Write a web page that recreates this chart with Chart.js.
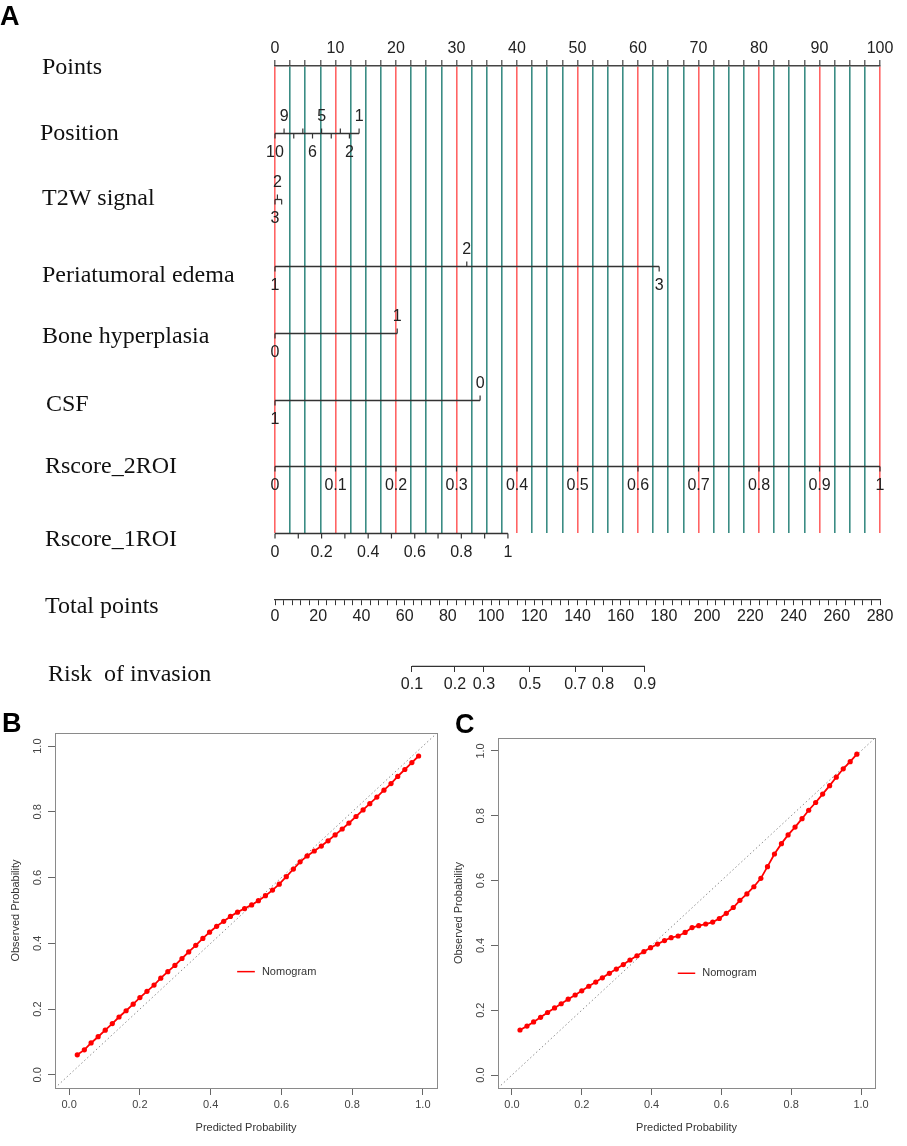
<!DOCTYPE html>
<html>
<head>
<meta charset="utf-8">
<script src="https://cdn.jsdelivr.net/npm/chart.js@4.4.1/dist/chart.umd.min.js"></script>
<style>
  body { margin: 0; background: #fff; width: 907px; height: 1146px; position: relative; overflow: hidden; }
  canvas { position: absolute; }
</style>
</head>
<body>
<canvas id="nomo" width="907" height="700" style="left:0px;top:0px"></canvas>
<canvas id="calB" width="450" height="456" style="left:0px;top:690px"></canvas>
<canvas id="calC" width="457" height="456" style="left:450px;top:690px"></canvas>
<script>
// Nomogram data (A)
const rowTitles = ['Points', 'Position', 'T2W signal', 'Periatumoral edema', 'Bone hyperplasia',
  'CSF', 'Rscore_2ROI', 'Rscore_1ROI', 'Total points', 'Risk  of invasion'];

const positionLabels = ['10', '9', '8', '7', '6', '5', '4', '3', '2', '1'];
const positionPoints = [0, 1.5, 3.1, 4.6, 6.2, 7.7, 9.3, 10.8, 12.3, 13.9];
const positionShown = ['10', '9', '6', '5', '2', '1'];

const t2wLabels = ['3', '2', '1'];
const t2wPoints = [0, 0.4, 1.1];
const t2wShown = ['3', '2'];

const edemaLabels = ['1', '2', '3'];
const edemaPoints = [0, 31.7, 63.5];

const boneLabels = ['0', '1'];
const bonePoints = [0, 20.2];

const csfLabels = ['1', '0'];
const csfPoints = [0, 33.9];

const rscore2Labels = ['0', '0.1', '0.2', '0.3', '0.4', '0.5', '0.6', '0.7', '0.8', '0.9', '1'];
const rscore2Points = [0, 10, 20, 30, 40, 50, 60, 70, 80, 90, 100];

const rscore1Labels = ['0', '0.1', '0.2', '0.3', '0.4', '0.5', '0.6', '0.7', '0.8', '0.9', '1'];
const rscore1Points = [0, 3.85, 7.7, 11.55, 15.4, 19.25, 23.1, 26.95, 30.8, 34.65, 38.5];
const rscore1Shown = ['0', '0.2', '0.4', '0.6', '0.8', '1'];

const riskLabels = ['0.1', '0.2', '0.3', '0.5', '0.7', '0.8', '0.9'];
const riskPoints = [63.4, 83.3, 96.7, 118, 139, 151.8, 171.2];

// Calibration data (B, C)
const calTicks = [0, 0.2, 0.4, 0.6, 0.8, 1.0];
const predicted = [0.023, 0.043, 0.062, 0.082, 0.102, 0.122, 0.141, 0.161, 0.181, 0.200,
  0.220, 0.240, 0.259, 0.279, 0.299, 0.319, 0.338, 0.358, 0.378, 0.397,
  0.417, 0.437, 0.456, 0.476, 0.496, 0.516, 0.535, 0.555, 0.575, 0.594,
  0.614, 0.634, 0.653, 0.673, 0.693, 0.713, 0.732, 0.752, 0.772, 0.791,
  0.811, 0.831, 0.850, 0.870, 0.890, 0.910, 0.929, 0.949, 0.969, 0.988];
const observedB = [0.061, 0.076, 0.097, 0.116, 0.136, 0.156, 0.176, 0.195, 0.215, 0.235,
  0.254, 0.273, 0.294, 0.314, 0.333, 0.354, 0.374, 0.394, 0.415, 0.434,
  0.452, 0.467, 0.482, 0.495, 0.506, 0.517, 0.530, 0.545, 0.562, 0.580,
  0.603, 0.626, 0.648, 0.666, 0.681, 0.696, 0.712, 0.730, 0.748, 0.766,
  0.786, 0.806, 0.825, 0.845, 0.866, 0.886, 0.908, 0.929, 0.950, 0.970];
const observedC = [0.139, 0.151, 0.164, 0.178, 0.193, 0.207, 0.220, 0.234, 0.247, 0.260,
  0.274, 0.287, 0.300, 0.314, 0.327, 0.341, 0.355, 0.368, 0.381, 0.393,
  0.404, 0.415, 0.424, 0.429, 0.440, 0.455, 0.461, 0.466, 0.472, 0.483,
  0.499, 0.517, 0.539, 0.559, 0.581, 0.607, 0.643, 0.682, 0.714, 0.741,
  0.765, 0.791, 0.817, 0.841, 0.867, 0.893, 0.919, 0.945, 0.967, 0.990];

// Layout / style (not data)
const RED = 'rgba(255, 40, 40, 0.72)';
const TEAL = 'rgb(58, 140, 132)';
const titleX = [42, 40, 42, 42, 42, 46, 45, 45, 45, 48];
const titleDy = [2, 1, -1, 10, 4, 5, 0, 7, 7, 8];

const nomoRows = [
  { row: 1, labels: positionLabels, points: positionPoints, shown: positionShown, alternate: true },
  { row: 2, labels: t2wLabels, points: t2wPoints, shown: t2wShown, alternate: true },
  { row: 3, labels: edemaLabels, points: edemaPoints, shown: edemaLabels, alternate: true },
  { row: 4, labels: boneLabels, points: bonePoints, shown: boneLabels, alternate: true },
  { row: 5, labels: csfLabels, points: csfPoints, shown: csfLabels, alternate: true },
  { row: 6, labels: rscore2Labels, points: rscore2Points, shown: rscore2Labels, alternate: false },
  { row: 7, labels: rscore1Labels, points: rscore1Points, shown: rscore1Shown, alternate: false },
];

const nomoPlugin = {
  id: 'nomoRows',
  afterDraw(chart) {
    const { ctx, scales: { x, y } } = chart;
    ctx.save();
    // row titles
    ctx.font = '24px "Liberation Serif"';
    ctx.fillStyle = '#111';
    ctx.textAlign = 'left';
    ctx.textBaseline = 'middle';
    rowTitles.forEach((t, i) => ctx.fillText(t, titleX[i], y.getPixelForValue(i) + titleDy[i]));

    // variable axes
    ctx.strokeStyle = '#333';
    ctx.fillStyle = '#222';
    ctx.font = '16px "Liberation Sans"';
    ctx.textAlign = 'center';
    nomoRows.forEach(r => {
      const py = Math.round(y.getPixelForValue(r.row)) + 0.5;
      const x0 = x.getPixelForValue(r.points[0]);
      const x1 = x.getPixelForValue(r.points[r.points.length - 1]);
      ctx.lineWidth = 1.3;
      ctx.beginPath();
      ctx.moveTo(x0, py);
      ctx.lineTo(x1, py);
      ctx.stroke();
      r.points.forEach((p, i) => {
        const px = x.getPixelForValue(p);
        const up = r.alternate && i % 2 === 1;
        ctx.lineWidth = 1.2;
        ctx.beginPath();
        ctx.moveTo(px, py);
        ctx.lineTo(px, py + (up ? -5 : 5));
        ctx.stroke();
        if (r.shown.includes(r.labels[i])) {
          ctx.fillText(r.labels[i], px, py + (up ? -17 : 19));
        }
      });
    });

    ctx.font = 'bold 27px "Liberation Sans"';
    ctx.fillStyle = '#000';
    ctx.textAlign = 'left';
    ctx.textBaseline = 'alphabetic';
    ctx.fillText('A', 0, 25);
    ctx.restore();
  }
};

const tickFont = { family: 'Liberation Sans', size: 16 };

new Chart(document.getElementById('nomo'), {
  type: 'scatter',
  data: {
    datasets: [{
      data: [{ x: riskPoints[0], y: 9 }, { x: riskPoints[riskPoints.length - 1], y: 9 }],
      xAxisID: 'xRisk',
      yAxisID: 'y',
      showLine: true,
      clip: false,
      borderColor: '#333',
      borderWidth: 1.2,
      pointRadius: 0,
    }],
  },
  options: {
    responsive: false,
    animation: false,
    layout: { padding: { left: 275, right: 27, top: 0, bottom: 167 } },
    plugins: { legend: { display: false }, tooltip: { enabled: false } },
    scales: {
      x: {
        type: 'linear',
        position: 'top',
        min: 0,
        max: 100,
        afterFit: s => { s.height = 66; },
        ticks: {
          stepSize: 2.5,
          maxTicksLimit: 1000,
          autoSkip: false,
          maxRotation: 0,
          padding: 2,
          color: '#222',
          font: tickFont,
          callback: v => (v % 10 === 0 ? String(v) : ''),
        },
        grid: {
          color: c => (c.tick && c.tick.value % 10 === 0 ? RED : TEAL),
          lineWidth: 1.6,
          tickColor: '#444',
          tickLength: 6,
          tickWidth: 1.2,
        },
        border: { color: '#444', width: 1.5 },
      },
      y: { type: 'linear', reverse: true, min: 0, max: 7, display: false },
      xTotal: {
        axis: 'x',
        type: 'linear',
        position: { y: 8 },
        min: 0,
        max: 280,
        ticks: {
          stepSize: 4,
          maxTicksLimit: 1000,
          autoSkip: false,
          maxRotation: 0,
          padding: 2,
          color: '#222',
          font: tickFont,
          callback: v => (v % 20 === 0 ? String(v) : ''),
        },
        grid: { drawOnChartArea: false, tickLength: 5, color: '#333', lineWidth: 1 },
        border: { color: '#333', width: 1.2 },
      },
      xRisk: {
        axis: 'x',
        type: 'linear',
        position: { y: 9 },
        min: 0,
        max: 280,
        afterBuildTicks: s => { s.ticks = riskPoints.map(v => ({ value: v })); },
        ticks: {
          autoSkip: false,
          maxRotation: 0,
          padding: 3,
          color: '#222',
          font: tickFont,
          callback: (v, i) => riskLabels[i],
        },
        grid: { drawOnChartArea: false, tickLength: 6, color: '#333', lineWidth: 1 },
        border: { display: false },
      },
    },
  },
  plugins: [nomoPlugin],
});

// Calibration plots
const calibPlugin = {
  id: 'calib',
  afterDraw(chart, args, opts) {
    const { ctx, chartArea: a, scales: { x, y } } = chart;
    ctx.save();
    ctx.strokeStyle = '#8a8a8a';
    ctx.lineWidth = 1;
    ctx.strokeRect(Math.round(a.left) + 0.5, Math.round(a.top) + 0.5,
      Math.round(a.right - a.left), Math.round(a.bottom - a.top));

    // rotated y tick labels
    ctx.font = '11px "Liberation Sans"';
    ctx.fillStyle = '#444';
    ctx.textAlign = 'center';
    ctx.textBaseline = 'middle';
    y.ticks.forEach(t => {
      ctx.save();
      ctx.translate(a.left - 17, y.getPixelForValue(t.value));
      ctx.rotate(-Math.PI / 2);
      ctx.fillText(t.value.toFixed(1), 0, 0);
      ctx.restore();
    });

    // legend
    const ly = y.getPixelForValue(0.314);
    ctx.strokeStyle = '#ff0000';
    ctx.lineWidth = 1.5;
    ctx.beginPath();
    ctx.moveTo(x.getPixelForValue(0.475), ly);
    ctx.lineTo(x.getPixelForValue(0.525), ly);
    ctx.stroke();
    ctx.fillStyle = '#333';
    ctx.textAlign = 'left';
    ctx.fillText('Nomogram', x.getPixelForValue(0.545), ly);

    // panel letter
    ctx.font = 'bold 27px "Liberation Sans"';
    ctx.fillStyle = '#000';
    ctx.textBaseline = 'alphabetic';
    ctx.fillText(opts.letter, opts.letterX, opts.letterY);
    ctx.restore();
  }
};

const calFont = { family: 'Liberation Sans', size: 11 };

function makeCalibration(id, observed, box, letter) {
  const canvas = document.getElementById(id);
  const W = canvas.width, H = canvas.height;
  new Chart(canvas, {
    type: 'scatter',
    data: {
      datasets: [
        {
          data: observed.map((v, i) => ({ x: predicted[i], y: v })),
          showLine: true,
          borderColor: '#ff0000',
          backgroundColor: '#ff0000',
          borderWidth: 1.8,
          pointRadius: 2.6,
          pointBorderWidth: 0,
          order: 1,
        },
        {
          data: [{ x: -0.04, y: -0.04 }, { x: 1.04, y: 1.04 }],
          showLine: true,
          borderColor: '#8c8c8c',
          borderWidth: 1,
          borderDash: [1.5, 2.5],
          pointRadius: 0,
          order: 2,
        },
      ],
    },
    options: {
      responsive: false,
      animation: false,
      layout: { padding: { left: box.left - 50, top: box.top, right: W - box.right, bottom: H - box.bottom - 51 } },
      plugins: {
        legend: { display: false },
        tooltip: { enabled: false },
        calib: { letter: letter.text, letterX: letter.x, letterY: letter.y },
      },
      scales: {
        x: {
          type: 'linear',
          min: -0.04,
          max: 1.04,
          afterBuildTicks: s => { s.ticks = calTicks.map(v => ({ value: v })); },
          afterFit: s => { s.height = 51; },
          ticks: { callback: v => v.toFixed(1), font: calFont, color: '#444', padding: 3, maxRotation: 0, autoSkip: false },
          grid: { drawOnChartArea: false, tickLength: 7, color: '#666' },
          border: { color: '#8a8a8a' },
          title: { display: true, text: 'Predicted Probability', font: calFont, color: '#333', padding: { top: 4, bottom: 4 } },
        },
        y: {
          type: 'linear',
          min: -0.04,
          max: 1.04,
          afterBuildTicks: s => { s.ticks = calTicks.map(v => ({ value: v })); },
          afterFit: s => { s.width = 50; },
          ticks: { display: false },
          grid: { drawOnChartArea: false, tickLength: 7, color: '#666' },
          border: { color: '#8a8a8a' },
          title: { display: true, text: 'Observed Probability', font: calFont, color: '#333', padding: { top: 4, bottom: 4 } },
        },
      },
    },
    plugins: [calibPlugin],
  });
}

makeCalibration('calB', observedB, { left: 55, top: 43, right: 437, bottom: 398 }, { text: 'B', x: 2, y: 42 });
makeCalibration('calC', observedC, { left: 48, top: 48, right: 425, bottom: 398 }, { text: 'C', x: 5, y: 43 });
</script>
</body>
</html>
